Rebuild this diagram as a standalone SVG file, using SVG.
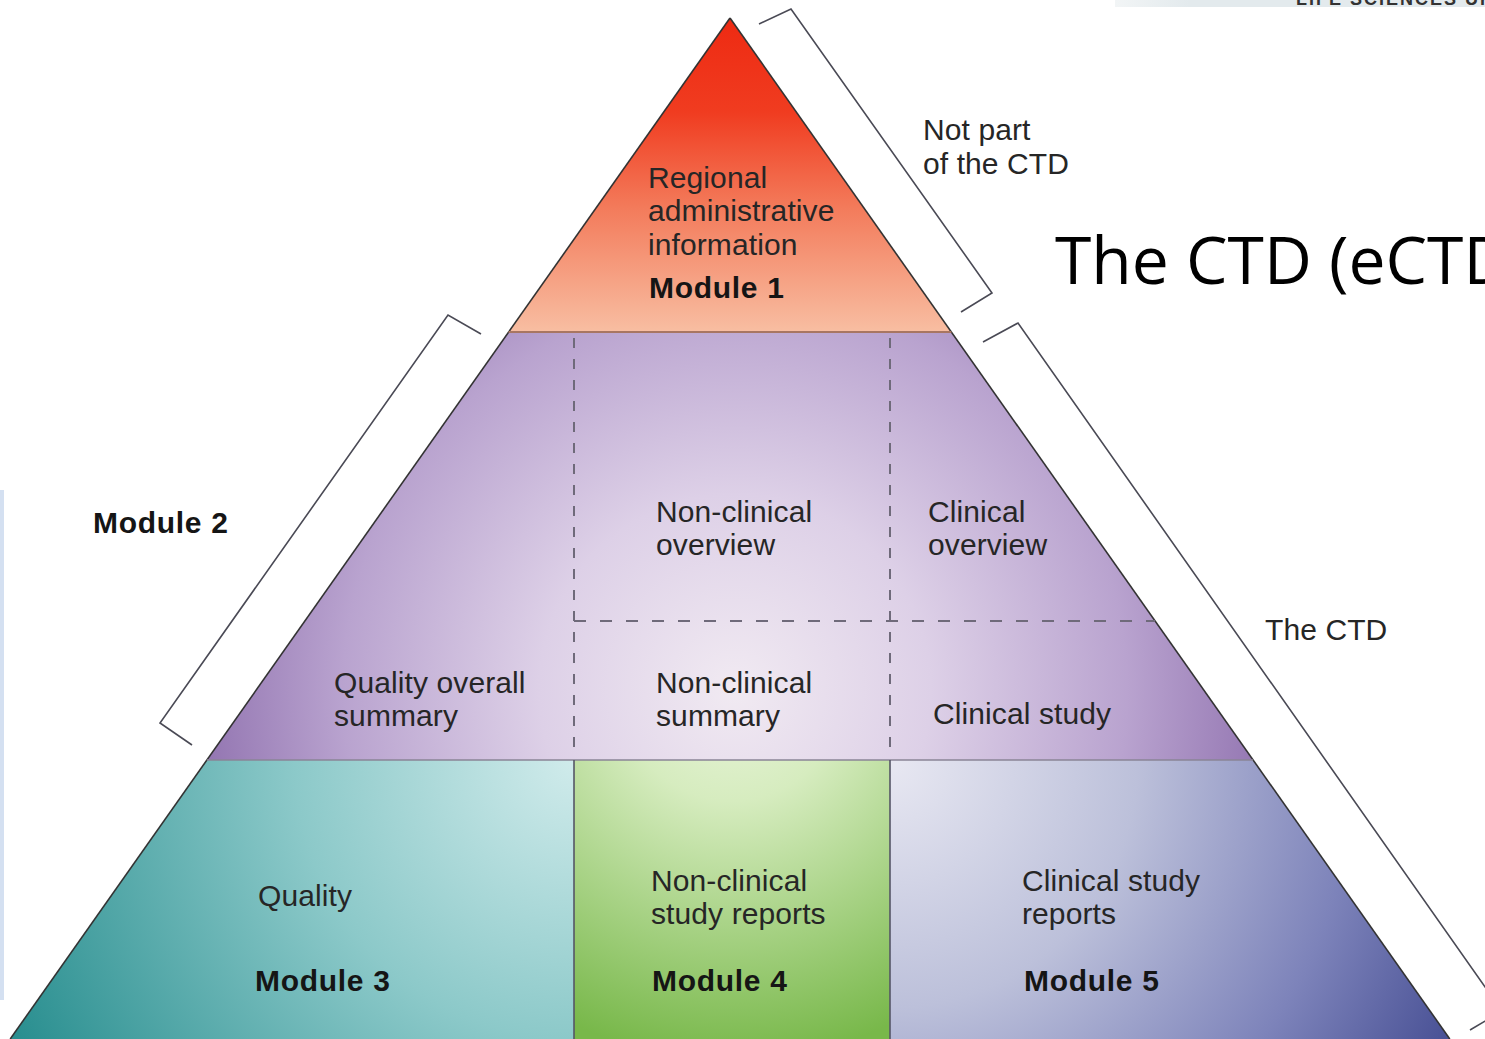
<svg xmlns="http://www.w3.org/2000/svg" width="1485" height="1039" viewBox="0 0 1485 1039">
  <defs>
    <linearGradient id="g1" gradientUnits="userSpaceOnUse" x1="0" y1="18" x2="0" y2="332">
      <stop offset="0" stop-color="#ee2a12"/>
      <stop offset="0.3" stop-color="#f03c20"/>
      <stop offset="0.6" stop-color="#f37a5a"/>
      <stop offset="1" stop-color="#f8bea2"/>
    </linearGradient>
    <radialGradient id="g2" gradientUnits="userSpaceOnUse" cx="735" cy="690" r="560">
      <stop offset="0" stop-color="#f1eaf2"/>
      <stop offset="0.35" stop-color="#ddd0e7"/>
      <stop offset="0.7" stop-color="#b9a3cf"/>
      <stop offset="1" stop-color="#8c6dac"/>
    </radialGradient>
    <radialGradient id="g3" gradientUnits="userSpaceOnUse" cx="574" cy="760" r="620">
      <stop offset="0" stop-color="#d0ebeb"/>
      <stop offset="0.45" stop-color="#8cc9c9"/>
      <stop offset="1" stop-color="#2a8f90"/>
    </radialGradient>
    <radialGradient id="g4" gradientUnits="userSpaceOnUse" cx="732" cy="690" r="370">
      <stop offset="0" stop-color="#eaf5dc"/>
      <stop offset="0.3" stop-color="#d6ecbf"/>
      <stop offset="1" stop-color="#78b84a"/>
    </radialGradient>
    <radialGradient id="g5" gradientUnits="userSpaceOnUse" cx="890" cy="760" r="620">
      <stop offset="0" stop-color="#e8e8f2"/>
      <stop offset="0.4" stop-color="#bcc0da"/>
      <stop offset="0.75" stop-color="#7d83ba"/>
      <stop offset="1" stop-color="#4a5296"/>
    </radialGradient>
    <linearGradient id="band" x1="0" y1="0" x2="1" y2="0">
      <stop offset="0" stop-color="#f2f5f6"/>
      <stop offset="0.2" stop-color="#e3eaed"/>
      <stop offset="1" stop-color="#e3eaed"/>
    </linearGradient>
  </defs>
  <style>
    .lbl { font-family: "Liberation Sans", Arial, sans-serif; font-size: 30px; fill: #262626; letter-spacing: 0.1px; }
    .mod { font-family: "Liberation Sans", Arial, sans-serif; font-size: 30px; font-weight: bold; fill: #151515; letter-spacing: 0.7px; }
    .edge { fill: none; stroke: #333; stroke-width: 1.6; }
    .dash { fill: none; stroke: #6f6a7a; stroke-width: 2; }
    .bracket { fill: none; stroke: #4a4a55; stroke-width: 1.6; stroke-linejoin: miter; }
  </style>
  <rect width="1485" height="1039" fill="#ffffff"/>

  <!-- background artefacts -->
  <rect x="1115" y="0" width="370" height="7" fill="url(#band)"/>
  <text x="1296" y="5" font-family="Liberation Sans, Arial, sans-serif" font-size="18" font-weight="bold" letter-spacing="2" fill="#333">LIFE SCIENCES UK</text>
  <rect x="0" y="490" width="4" height="510" fill="#c9d8ee" opacity="0.8"/>

  <g id="module1">
    <polygon points="730,18 951.4,332 508.6,332" fill="url(#g1)"/>
    <text class="lbl" x="648" y="188">Regional</text>
    <text class="lbl" x="648" y="221">administrative</text>
    <text class="lbl" x="648" y="255">information</text>
    <text class="mod" x="649" y="298">Module 1</text>
  </g>

  <g id="module2">
    <polygon points="508.6,332 951.4,332 1253.1,760 206.9,760" fill="url(#g2)"/>
    <text class="lbl" x="334" y="693">Quality overall</text>
    <text class="lbl" x="334" y="726">summary</text>
    <text class="lbl" x="656" y="522">Non-clinical</text>
    <text class="lbl" x="656" y="555">overview</text>
    <text class="lbl" x="928" y="522">Clinical</text>
    <text class="lbl" x="928" y="555">overview</text>
    <text class="lbl" x="656" y="693">Non-clinical</text>
    <text class="lbl" x="656" y="726">summary</text>
    <text class="lbl" x="933" y="724">Clinical study</text>
    <text class="mod" x="93" y="533">Module 2</text>
  </g>

  <g id="module3">
    <polygon points="206.9,760 574,760 574,1039 10.2,1039" fill="url(#g3)"/>
    <text class="lbl" x="258" y="906">Quality</text>
    <text class="mod" x="255" y="991">Module 3</text>
  </g>

  <g id="module4">
    <rect x="574" y="760" width="316" height="279" fill="url(#g4)"/>
    <text class="lbl" x="651" y="891">Non-clinical</text>
    <text class="lbl" x="651" y="924">study reports</text>
    <text class="mod" x="652" y="991">Module 4</text>
  </g>

  <g id="module5">
    <polygon points="890,760 1253.1,760 1449.8,1039 890,1039" fill="url(#g5)"/>
    <text class="lbl" x="1022" y="891">Clinical study</text>
    <text class="lbl" x="1022" y="924">reports</text>
    <text class="mod" x="1024" y="991">Module 5</text>
  </g>

  <g id="connectors">
    <line x1="730" y1="18" x2="10.2" y2="1039" class="edge"/>
    <line x1="730" y1="18" x2="1449.8" y2="1039" class="edge"/>
    <line x1="508.6" y1="332" x2="951.4" y2="332" stroke="#a87662" stroke-width="2"/>
    <line x1="206.9" y1="760" x2="1253.1" y2="760" stroke="#8a8496" stroke-width="1.5"/>
    <line x1="574" y1="760" x2="574" y2="1039" stroke="#556" stroke-width="1.6"/>
    <line x1="890" y1="760" x2="890" y2="1039" stroke="#556" stroke-width="1.6"/>
    <line x1="574" y1="338" x2="574" y2="758" class="dash" stroke-dasharray="10 11"/>
    <line x1="890" y1="338" x2="890" y2="758" class="dash" stroke-dasharray="10 11"/>
    <line x1="574" y1="621" x2="1155" y2="621" class="dash" stroke-dasharray="12 14"/>
    <polyline class="bracket" points="759,24 791,9 992,293 961,312"/>
    <polyline class="bracket" points="983,342 1018,323 1502,1011 1470,1030"/>
    <polyline class="bracket" points="481,334 448,315 160,723 192,745"/>
    <text class="lbl" x="923" y="140">Not part</text>
    <text class="lbl" x="923" y="174">of the CTD</text>
    <text class="lbl" x="1265" y="640">The CTD</text>
  </g>

  <text x="1055" y="284" font-family="Open Sans, Liberation Sans, sans-serif" font-size="66" fill="#000">The CTD (eCTD</text>
</svg>
